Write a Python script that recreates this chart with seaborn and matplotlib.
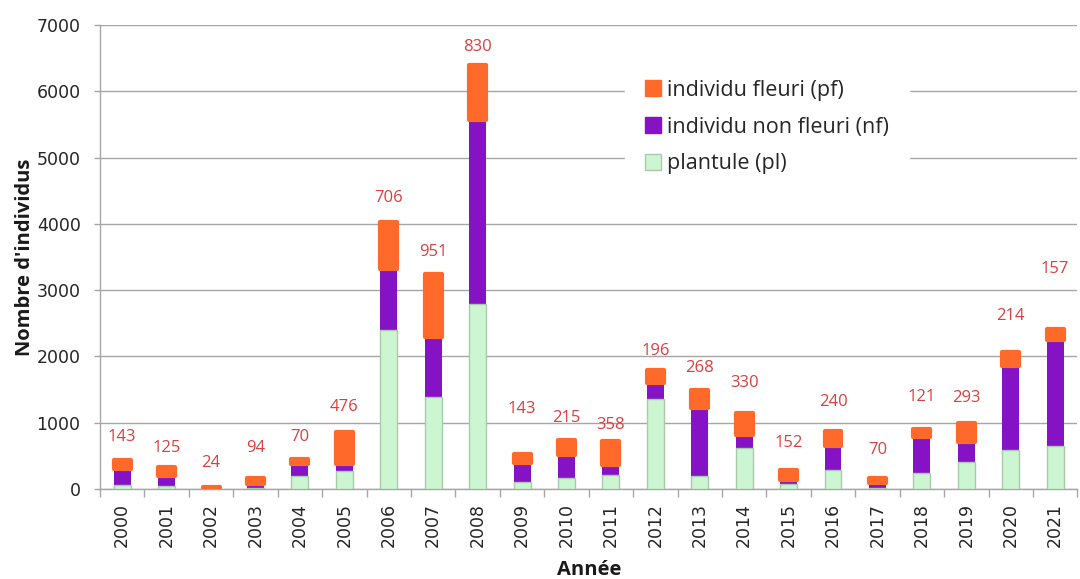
import numpy as np
import pandas as pd
import matplotlib
matplotlib.use("Agg")
import matplotlib.pyplot as plt
import seaborn as sns
from matplotlib.patches import Patch

# Données
annees = [str(a) for a in range(2000, 2022)]
plantules = [60, 40, 5, 20, 200, 275, 2405, 1390, 2790, 100, 170, 210,
             1357, 200, 612, 70, 287, 10, 235, 412, 582, 653]
non_fleuris = [240, 160, 5, 50, 180, 110, 920, 910, 2780, 290, 350, 155,
               240, 1020, 210, 70, 355, 80, 543, 290, 1278, 1600]
fleuris = [143, 125, 24, 94, 70, 476, 706, 951, 830, 143, 215, 358,
           196, 268, 330, 152, 240, 70, 121, 293, 214, 157]

# décalage des étiquettes au-dessus des barres (pixels)
decalage_px = [23, 19, 24, 30, 22, 25, 24, 22, 18, 45, 22, 16,
               19, 22, 30, 27, 29, 28, 32, 25, 36, 60]

df = pd.DataFrame({'Annee': annees, 'pl': plantules, 'nf': non_fleuris, 'pf': fleuris})
df['cum_nf'] = df['pl'] + df['nf']
df['total'] = df['cum_nf'] + df['pf']

c_pf = '#FF6A2A'
c_nf = '#8612C6'
c_pl = '#CCF6D2'
c_pl_edge = '#A9CBAB'
c_label = '#DC3F3F'
c_grid = '#A6A6A6'
c_text = '#262626'

sns.set_theme(style="white")
plt.rcParams['font.family'] = ['DejaVu Sans']

fig = plt.figure(figsize=(10.8, 5.79), dpi=100)
ax = fig.add_axes([0.0926, 0.1554, 0.905, 0.8014])

largeur = 0.38
sns.barplot(data=df, x='Annee', y='total', color=c_pf, width=largeur, saturation=1,
            edgecolor=c_pf, linewidth=3, ax=ax, zorder=4)
n_pf = len(ax.patches)
sns.barplot(data=df, x='Annee', y='cum_nf', color=c_nf, width=largeur, saturation=1,
            linewidth=0, ax=ax, zorder=3)
sns.barplot(data=df, x='Annee', y='pl', color=c_pl, width=largeur, saturation=1,
            edgecolor=c_pl_edge, linewidth=1, ax=ax, zorder=3.5)

# le segment orange commence au sommet du segment violet
for patch, bas, haut in zip(ax.patches[:n_pf], df['cum_nf'], df['total']):
    patch.set_y(bas)
    patch.set_height(haut - bas)
    patch.set_joinstyle('round')

# étiquettes (nombre d'individus fleuris)
for i, (tot, pf, off) in enumerate(zip(df['total'], df['pf'], decalage_px)):
    ax.annotate(str(pf), xy=(i, tot), xytext=(0, off * 0.72), textcoords='offset points',
                ha='center', va='center', color=c_label, fontsize=12,
                family=['Open Sans', 'DejaVu Sans'])

ax.set_ylim(0, 7000)
ax.set_xlim(-0.5, len(annees) - 0.5)
ax.set_yticks(np.arange(0, 7001, 1000))
ax.yaxis.grid(True, color=c_grid, linewidth=1)
ax.set_axisbelow(True)
for s in ['top', 'right']:
    ax.spines[s].set_visible(False)
for s in ['left', 'bottom']:
    ax.spines[s].set_color(c_grid)
    ax.spines[s].set_linewidth(1)

ax.set_xticks(np.arange(-0.5, len(annees)), minor=True)
ax.tick_params(axis='x', which='major', length=0, pad=10, labelsize=12.5, rotation=90,
               labelcolor=c_text)
ax.tick_params(axis='x', which='minor', length=6, color=c_grid, width=1, bottom=True)
ax.tick_params(axis='y', which='major', length=4, color=c_grid, width=1, left=True,
               labelsize=12.5, pad=10, labelcolor=c_text)

ax.set_xlabel('Année', fontsize=14.5, fontweight='bold', labelpad=9,
              family=['Open Sans', 'DejaVu Sans'], color='#1a1a1a')
ax.set_ylabel("Nombre d'individus", fontsize=14.5, fontweight='bold', labelpad=1,
              family=['Open Sans', 'DejaVu Sans'], color='#1a1a1a')

handles = [Patch(facecolor=c_pf, edgecolor=c_pf, label='individu fleuri (pf)'),
           Patch(facecolor=c_nf, edgecolor=c_nf, label='individu non fleuri (nf)'),
           Patch(facecolor=c_pl, edgecolor=c_pl_edge, label='plantule (pl)')]
leg = ax.legend(handles=handles, loc='upper left', bbox_to_anchor=(0.579, 0.896),
                bbox_transform=fig.transFigure,
                frameon=True, facecolor='white', edgecolor='white', framealpha=1,
                handlelength=0.75, handleheight=0.75, handletextpad=0.3,
                labelspacing=0.74, borderpad=0.9, borderaxespad=0,
                prop={'family': ['Open Sans', 'DejaVu Sans'], 'size': 15.5})
for t in leg.get_texts():
    t.set_color(c_text)
leg.set_zorder(5)

fig.savefig('out.png', dpi=100)
